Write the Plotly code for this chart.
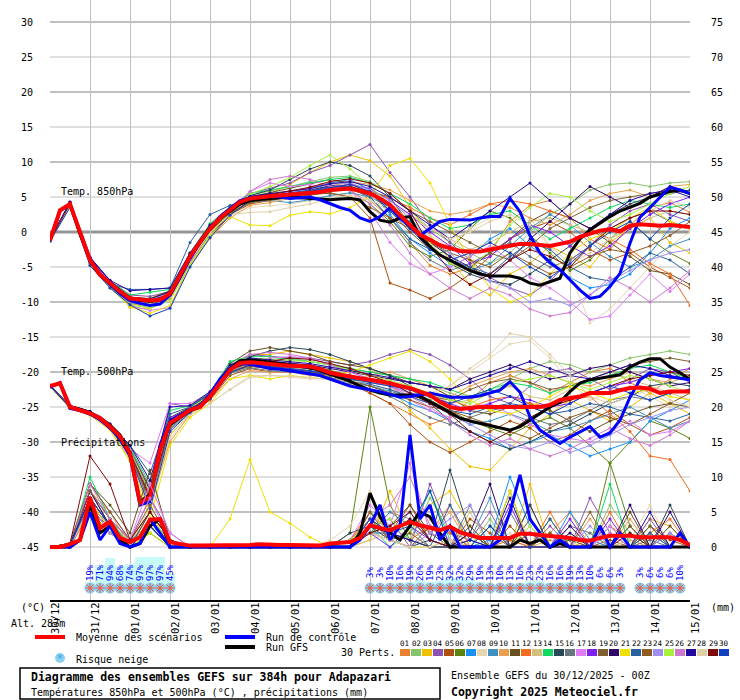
import plotly.graph_objects as go

W, H = 740, 700
FONT = 'DejaVu Sans Mono'

## time axis, hours after 30/12 00Z
hours_6h = list(range(0, 385, 6))
hours_12h = list(range(0, 385, 12))
date_hours = list(range(0, 385, 24))
date_labels = ['30/12', '31/12', '01/01', '02/01', '03/01', '04/01', '05/01', '06/01', '07/01',
               '08/01', '09/01', '10/01', '11/01', '12/01', '13/01', '14/01', '15/01']

left_ticks = [30, 25, 20, 15, 10, 5, 0, -5, -10, -15, -20, -25, -30, -35, -40, -45]
right_ticks = [75, 70, 65, 60, 55, 50, 45, 40, 35, 30, 25, 20, 15, 10, 5, 0]

## mean / control / GFS, 6h steps
t850_mean = [-1.2, 3.1, 4.0, -0.2, -4.0, -6.1, -7.3, -8.5, -9.5, -9.7, -9.8, -9.7, -8.8, -6.2, -3.5, -1.4, 0.5,
             2.0, 3.1, 4.3, 4.8, 5.0, 5.1, 5.2, 5.3, 5.4, 5.5, 5.7, 6.0, 6.1, 6.2, 5.9, 5.5, 4.8, 3.9, 2.4, 1.0,
             -0.4, -1.1, -1.9, -2.3, -2.7, -2.8, -2.8, -2.5, -2.2, -1.9, -1.7, -1.7, -1.9, -2.0, -1.7, -1.4, -0.7,
             -0.2, 0.2, 0.4, 0.1, 0.9, 1.1, 1.0, 0.9, 1.0, 0.9, 0.7]
t850_ctrl = [-1.3, 3.0, 4.0, 0.0, -3.8, -6.0, -7.5, -8.8, -9.8, -10.2, -10.5, -10.3, -9.0, -6.5, -3.8, -1.5, 0.5,
             2.2, 3.4, 4.5, 4.9, 5.0, 5.1, 5.0, 4.8, 4.9, 5.0, 4.6, 4.0, 3.5, 3.1, 2.0, 1.5, 2.2, 3.5, 2.0, 0.8,
             -0.5, 0.5, 1.5, 1.8, 1.7, 1.7, 2.0, 2.2, 2.2, 4.8, 2.9, -0.5, -3.0, -4.4, -5.4, -6.8, -8.3, -9.5,
             -9.2, -7.8, -5.9, -1.6, 2.1, 3.5, 5.0, 6.4, 6.0, 5.5]
t850_gfs = [-1.2, 3.1, 4.0, -0.3, -4.1, -6.2, -7.4, -8.6, -9.6, -9.8, -9.9, -9.8, -9.0, -6.4, -3.6, -1.5, 0.4,
            1.9, 3.0, 4.0, 4.5, 4.7, 4.8, 4.9, 5.0, 4.9, 4.8, 4.6, 4.6, 4.7, 4.8, 4.6, 2.9, 1.7, 1.4, 2.0, 2.2,
            -0.7, -2.1, -3.3, -4.0, -4.8, -5.5, -6.0, -6.3, -6.3, -6.3, -6.6, -7.3, -7.6, -7.1, -6.6, -3.0, -1.0,
            0.3, 1.3, 2.2, 3.0, 3.6, 4.1, 5.0, 5.4, 5.8, 6.0, 5.5]

t500_mean = [-22.0, -21.6, -25.0, -25.4, -25.9, -26.6, -27.8, -29.2, -31.6, -38.7, -37.8, -31.1, -27.3, -26.4,
             -25.4, -25.0, -23.5, -21.6, -19.7, -18.7, -18.6, -18.7, -18.9, -19.0, -19.1, -19.1, -19.2, -19.6,
             -20.1, -20.4, -20.7, -20.9, -21.1, -21.3, -21.6, -22.0, -22.3, -22.8, -23.3, -24.3, -25.0, -25.3,
             -25.1, -25.0, -25.0, -25.0, -24.9, -24.9, -25.0, -25.0, -24.7, -24.0, -23.7, -23.5, -23.0, -23.0,
             -23.0, -22.6, -22.3, -22.2, -22.4, -23.0, -22.8, -22.8, -22.8]
t500_ctrl = [-22.2, -21.5, -25.2, -25.5, -26.0, -26.8, -28.0, -29.5, -32.0, -39.0, -38.5, -30.5, -27.0, -26.2,
             -25.3, -24.8, -23.2, -21.0, -19.5, -18.8, -18.9, -19.2, -19.5, -19.6, -19.8, -20.0, -20.2, -20.5,
             -21.0, -21.5, -22.0, -22.3, -22.5, -22.8, -23.2, -23.6, -23.5, -23.2, -23.0, -23.3, -23.6, -23.6,
             -23.6, -23.4, -23.0, -22.6, -21.4, -22.9, -26.4, -28.3, -29.3, -30.2, -29.3, -28.5, -27.8, -29.3,
             -28.7, -26.9, -23.6, -21.1, -20.1, -20.5, -20.7, -20.8, -21.1]
t500_gfs = [-22.0, -21.6, -25.0, -25.3, -25.8, -26.5, -27.6, -29.0, -31.5, -38.5, -37.5, -31.0, -27.5, -26.5,
            -25.5, -25.0, -23.6, -21.5, -19.5, -18.4, -18.3, -18.4, -18.6, -18.8, -19.0, -19.2, -19.4, -19.8,
            -20.3, -20.8, -21.3, -22.0, -22.6, -23.0, -23.3, -23.3, -23.3, -23.5, -24.2, -25.0, -25.8, -26.6,
            -27.0, -27.3, -27.6, -28.0, -28.3, -27.8, -26.9, -25.9, -25.0, -24.3, -22.8, -21.6, -21.1, -20.9,
            -20.7, -20.4, -19.3, -18.6, -18.1, -18.1, -19.3, -20.1, -21.1]

rr_mean = [0, 0, 0.4, 1.0, 7.1, 2.7, 3.6, 1.3, 0.7, 1.4, 3.9, 4.0, 0.7, 0.4, 0.2, 0.2, 0.2, 0.2, 0.2, 0.2,
           0.3, 0.4, 0.3, 0.3, 0.3, 0.3, 0.2, 0.2, 0.5, 0.6, 0.7, 1.3, 3.1, 2.7, 2.4, 3.0, 3.6, 3.1, 2.7, 2.4,
           2.9, 2.1, 1.7, 1.3, 1.3, 1.3, 1.3, 1.9, 1.9, 1.7, 1.6, 1.4, 1.3, 1.0, 0.9, 1.3, 1.6, 1.6, 1.6, 1.4,
           1.4, 1.4, 1.4, 1.0, 0.3]
rr_ctrl = [0, 0, 0, 1, 5, 1, 3, 0.5, 0, 0.5, 4, 2, 0, 0, 0, 0, 0, 0, 0, 0, 0, 0, 0, 0, 0, 0, 0, 0, 0, 0, 0,
           1, 3, 6, 1, 3, 16, 4, 6, 1, 3, 0, 0, 0, 0, 1, 5, 10.3, 4, 2, 0, 1, 0, 0, 0, 3, 0, 2, 0, 0, 0, 0,
           0, 2, 0]
rr_gfs = [0, 0, 0, 1, 6, 2, 3, 1, 0, 0.5, 3, 4, 0, 0, 0, 0, 0, 0, 0, 0, 0, 0, 0, 0, 0, 0, 0, 0, 0, 0, 0,
          2, 7.7, 4.3, 2, 1, 3, 5, 4.3, 2, 0, 0, 0, 0, 0, 0, 0, 1, 0.5, 1, 0, 0.5, 0, 0, 0, 0, 0, 0, 0, 0,
          0, 0, 0, 0, 0]

## 30 perturbations, 12h steps
t850_perts = [
    [-1.1, 4.2, -3.6, -7.0, -9.2, -10.4, -9.5, -4.0, 0.2, 2.8, 4.6, 5.0, 5.6, 6.4, 7.0, 6.8, 4.5, 2.0, -1.5, -4.8, -6.0, -5.2, -3.0, 1.5, 3.8, 4.5, 2.0, -1.0, -2.5, 1.0, 3.5, 4.2, 2.8],
    [-1.3, 3.9, -4.5, -7.8, -10.2, -10.8, -9.0, -4.2, 0.0, 3.0, 5.2, 5.8, 6.5, 7.2, 7.8, 8.0, 7.2, 5.5, 3.0, 0.5, -1.5, -3.0, -4.5, -3.0, 0.0, 2.5, 4.0, 6.0, 6.8, 7.0, 6.5, 7.0, 7.2],
    [-1.2, 4.1, -4.2, -7.5, -10.8, -11.0, -9.4, -3.8, 0.8, 3.4, 5.0, 5.5, 6.8, 8.5, 10.0, 11.0, 10.2, 8.0, 3.5, -0.5, -4.0, -7.5, -9.0, -6.0, -4.5, -2.0, -3.5, -5.0, -1.5, 0.5, 2.0, -1.5, -3.0],
    [-1.0, 4.3, -3.8, -7.0, -9.0, -9.2, -8.5, -3.2, 0.8, 3.5, 5.5, 6.2, 7.0, 8.5, 9.5, 11.0, 12.5, 8.5, 5.0, 1.0, -1.5, -4.0, -6.5, -8.0, -9.0, -7.0, -4.0, -2.0, 1.0, 3.0, 4.0, 2.5, 1.5],
    [-1.3, 3.8, -4.5, -7.5, -9.8, -10.2, -9.0, -4.5, -0.5, 2.5, 4.0, 4.5, 5.0, 5.5, 5.5, 5.0, 2.0, -7.3, -8.3, -9.5, -8.0, -6.0, -3.5, -1.0, 0.5, 1.5, 0.0, -2.5, -4.0, -3.0, -5.0, -6.5, -8.0],
    [-1.2, 4.0, -4.0, -7.2, -9.4, -9.6, -8.6, -3.0, 1.0, 3.2, 4.8, 5.4, 5.6, 6.0, 6.5, 6.0, 4.0, 1.5, -2.0, -3.5, -2.5, 0.5, 3.0, 2.0, -0.5, -3.0, -5.5, -4.0, -1.0, 1.5, -1.0, -3.0, -4.5],
    [-1.1, 4.1, -3.9, -7.4, -9.6, -9.9, -8.7, -3.4, 0.6, 3.1, 4.9, 5.3, 5.8, 6.2, 7.0, 7.5, 6.0, 2.5, -1.0, -3.0, -5.0, -3.5, -1.0, 0.5, -2.0, -4.0, -6.5, -8.0, -7.5, -6.0, -3.0, 0.5, 2.0],
    [-1.2, 3.9, -4.3, -7.6, -10.0, -10.6, -9.3, -4.6, -0.8, 2.4, 3.5, 3.8, 4.0, 4.5, 5.0, 5.5, 4.5, 3.0, 1.0, -0.5, -2.0, 0.5, 2.0, 3.5, 2.0, -2.0, -6.0, -13.0, -11.0, -8.0, -5.0, -2.0, 0.0],
    [-1.2, 4.0, -4.1, -7.3, -9.7, -10.0, -9.0, -3.6, 0.4, 3.0, 4.3, 4.5, 4.2, 4.6, 5.2, 5.6, 5.0, 3.5, 1.5, -1.0, -3.5, -5.5, -4.5, -2.0, 0.5, 2.5, 1.0, -1.5, -3.5, -5.0, -4.0, -2.0, -1.0],
    [-1.3, 3.7, -4.6, -7.9, -10.3, -10.5, -9.6, -4.8, -0.9, 2.0, 3.8, 4.2, 4.8, 5.5, 6.5, 7.2, 6.8, 6.0, 4.5, 3.0, 2.5, 3.0, 4.0, 3.5, 2.0, 1.0, 2.5, 4.5, 5.5, 6.0, 5.0, 6.5, 6.8],
    [-1.1, 4.2, -3.7, -7.1, -9.3, -9.5, -8.4, -3.1, 0.9, 3.3, 5.0, 5.6, 6.2, 6.8, 7.5, 7.0, 5.5, 3.0, 0.0, -2.5, -4.0, -5.0, -3.0, -1.0, 1.5, 3.0, 2.0, 0.5, -1.5, -3.5, -5.5, -6.0, -7.5],
    [-1.2, 4.0, -4.0, -7.4, -9.5, -9.8, -8.9, -3.7, 0.3, 2.9, 4.6, 5.0, 5.2, 5.6, 6.0, 6.5, 5.8, 4.8, 3.5, 2.0, 1.0, 2.5, 4.0, 4.5, 4.0, 3.0, 2.0, 0.5, -1.0, -2.5, -4.5, -6.0, -10.5],
    [-1.2, 4.0, -4.2, -7.6, -9.8, -10.1, -9.2, -3.9, 0.2, 2.8, 4.5, 4.8, 5.1, 5.3, 5.8, 6.0, 5.2, 4.0, 2.5, 0.5, -1.0, -2.5, -1.5, 0.0, 1.5, 2.0, 1.0, 0.0, -1.0, 0.5, 2.0, 3.0, 2.5],
    [-1.1, 4.2, -3.7, -7.0, -9.0, -8.6, -8.2, -3.0, 1.2, 3.6, 5.5, 6.0, 6.5, 7.0, 7.5, 7.8, 7.0, 5.5, 4.0, 2.0, 0.5, 1.0, 2.5, 3.0, 1.0, -1.0, 0.5, 2.0, 3.5, 4.5, 4.0, 3.5, 4.0],
    [-1.2, 4.1, -3.9, -7.2, -9.4, -9.7, -8.6, -3.3, 0.7, 3.4, 5.2, 6.0, 7.5, 9.0, 10.0, 9.5, 8.0, 5.0, 1.0, -2.0, -4.5, -6.0, -7.0, -7.5, -6.0, -4.0, -2.0, 0.5, 2.5, 4.0, 5.0, 5.5, 6.0],
    [-1.3, 3.8, -4.4, -7.7, -10.1, -10.4, -9.3, -4.3, -0.3, 2.6, 4.2, 4.6, 5.0, 5.4, 5.8, 6.2, 5.0, 2.0, -1.5, -4.0, -5.5, -4.5, -3.0, -1.5, -3.5, -5.0, -4.0, -2.0, 0.5, 2.0, 3.0, 1.5, 0.5],
    [-1.1, 4.1, -3.8, -7.2, -10.5, -11.2, -10.8, -4.5, 0.1, 3.0, 5.8, 7.0, 6.5, 6.8, 6.2, 6.0, 3.0, -1.5, -4.5, -6.0, -5.0, -3.5, -2.0, -4.0, -6.5, -8.0, -10.0, -12.5, -12.0, -9.0, -6.0, -8.5, -6.0],
    [-1.2, 4.0, -4.0, -7.5, -9.5, -9.9, -8.8, -3.5, 0.5, 3.0, 4.8, 5.2, 5.4, 5.8, 6.4, 6.8, 6.2, 4.5, 2.5, 0.0, -2.0, -4.5, -3.5, -1.0, 1.0, 0.0, -2.0, -3.5, -2.0, 0.5, 2.5, 4.0, 5.0],
    [-1.2, 3.9, -4.3, -7.6, -9.9, -10.2, -9.1, -4.0, 0.0, 2.6, 4.2, 4.7, 5.0, 5.6, 6.2, 6.5, 5.8, 5.0, 3.0, 1.5, 0.0, -1.5, -3.0, -4.0, -2.0, 0.5, 2.0, 3.5, 4.5, 5.0, 5.5, 6.0, 5.5],
    [-1.1, 4.2, -3.7, -7.0, -9.3, -9.6, -8.5, -3.2, 0.8, 3.3, 5.0, 5.4, 5.6, 6.0, 6.6, 6.5, 5.5, 3.5, 1.0, -1.5, -3.5, -5.0, -6.5, -4.0, -1.0, 1.5, 4.0, 6.5, 5.0, 3.5, 5.0, 6.5, 5.5],
    [-1.3, 3.8, -4.5, -8.0, -10.6, -11.6, -10.5, -4.8, -0.5, 2.2, 1.0, 0.9, 2.4, 2.9, 2.6, 3.5, 5.0, 9.5, 10.5, 7.0, 1.0, -4.0, -8.0, -10.0, -9.0, -6.0, -3.0, -1.0, 0.0, 2.0, 3.5, 1.5, 0.5],
    [-1.2, 4.0, -4.1, -7.4, -8.2, -8.2, -8.0, -1.5, 2.5, 3.8, 4.7, 5.1, 5.5, 5.9, 6.5, 6.4, 5.0, 2.0, -1.0, -2.5, -4.0, -5.0, -6.0, -3.5, -1.5, -2.5, -5.0, -6.5, -7.0, -5.0, -3.0, -4.0, -6.0],
    [-1.2, 4.0, -4.0, -7.3, -9.6, -10.0, -8.9, -3.8, 0.2, 2.7, 4.3, 4.6, 4.9, 5.2, 5.6, 5.0, 3.5, 2.0, 0.5, -1.5, -3.0, -4.0, -5.0, -3.0, -4.5, -6.0, -5.0, -3.5, -2.5, -3.0, -2.0, -0.5, 1.5],
    [-1.1, 4.1, -3.9, -7.2, -9.4, -9.7, -8.7, -3.4, 0.6, 3.2, 4.9, 5.3, 5.7, 6.1, 6.8, 7.0, 6.0, 4.5, 2.0, -1.0, -3.0, -5.5, -7.0, -8.0, -10.0, -9.5, -10.5, -9.0, -7.0, -5.5, -4.0, -3.0, -2.5],
    [-1.3, 3.8, -4.4, -7.8, -10.4, -10.9, -9.8, -4.6, -0.4, 2.9, 5.4, 6.5, 7.8, 9.5, 11.0, 9.0, 6.5, 4.0, 1.0, -1.5, -4.5, -5.5, -2.5, 1.0, 3.5, 5.5, 5.0, 3.0, 1.5, 2.5, 4.0, 5.5, 6.5],
    [-1.2, 4.0, -4.0, -7.3, -9.5, -9.8, -8.8, -3.5, 0.5, 3.2, 5.8, 7.5, 8.0, 7.5, 6.5, 6.0, 4.0, 1.0, -3.0, -6.0, -8.0, -9.5, -8.0, -9.0, -11.0, -12.0, -11.5, -9.0, -6.5, -8.0, -10.0, -8.0, -5.5],
    [-1.1, 4.3, -3.6, -6.9, -8.4, -8.2, -8.0, -3.0, 1.0, 3.3, 5.1, 5.5, 5.8, 6.2, 6.9, 7.2, 6.5, 5.0, 3.0, 1.0, -1.0, 1.0, 3.0, 5.0, 7.0, 4.5, 2.0, 0.5, 2.5, 4.5, 5.5, 6.0, 5.0],
    [-1.2, 3.9, -4.2, -7.6, -9.9, -10.3, -9.2, -4.1, -0.1, 2.5, 2.8, 2.9, 3.5, 4.0, 4.8, 5.2, 4.5, 3.5, 2.0, 0.5, -1.0, 0.0, 1.5, 2.5, 1.0, -2.0, -4.5, -3.0, -1.0, 1.0, 3.0, 4.5, 3.5],
    [-1.2, 4.0, -4.0, -7.4, -9.6, -9.8, -8.9, -3.6, 0.4, 3.0, 4.8, 5.3, 5.8, 6.4, 7.2, 7.6, 7.0, 5.5, 3.0, -2.0, -5.5, -7.5, -6.0, -4.0, -2.5, -3.5, -5.0, -2.0, 0.5, 2.0, 3.0, 3.0, 2.5],
    [-1.3, 3.5, -4.8, -8.0, -10.4, -12.0, -10.9, -5.0, -0.8, 2.4, 4.5, 4.9, 5.2, 5.8, 6.3, 6.8, 5.8, 3.0, 0.5, -2.5, -4.0, -3.0, -1.5, -3.0, -5.0, -6.5, -4.5, -2.0, 0.0, 1.5, -1.0, 2.0, 4.0],
]

t500_perts = [
    [-22.1, -25.2, -26.1, -28.0, -32.2, -38.5, -28.0, -25.7, -23.8, -20.0, -18.8, -19.2, -19.8, -20.3, -21.0, -21.8, -23.0, -24.5, -26.0, -27.5, -26.5, -24.0, -21.5, -20.5, -21.5, -23.0, -21.5, -20.0, -19.5, -21.5, -23.0, -21.0, -19.5],
    [-22.0, -24.9, -25.8, -27.6, -31.0, -37.0, -26.8, -25.2, -23.2, -19.0, -18.0, -18.2, -18.0, -18.5, -19.0, -19.5, -20.0, -20.5, -21.0, -22.0, -23.0, -24.0, -22.5, -21.0, -19.5, -18.5, -19.0, -20.0, -19.0, -18.0, -17.5, -17.0, -17.5],
    [-22.1, -25.1, -26.0, -28.2, -32.5, -40.0, -29.0, -26.0, -23.8, -19.5, -17.5, -17.5, -17.0, -17.5, -18.0, -18.5, -19.5, -22.0, -25.5, -28.0, -31.0, -33.5, -34.0, -31.0, -28.0, -26.0, -24.0, -25.5, -27.0, -25.0, -23.0, -24.5, -26.0],
    [-21.9, -24.8, -25.6, -27.5, -31.0, -36.5, -24.5, -25.0, -23.0, -19.0, -17.5, -17.8, -18.0, -18.0, -18.5, -19.0, -18.5, -17.5, -16.8, -17.5, -19.0, -21.0, -23.5, -24.5, -22.0, -20.0, -19.5, -21.0, -22.5, -21.0, -19.5, -20.0, -21.5],
    [-22.0, -25.0, -26.0, -27.9, -31.8, -38.0, -27.5, -25.6, -24.0, -20.5, -19.5, -20.0, -20.0, -20.2, -20.5, -21.5, -23.0, -24.5, -27.5, -30.0, -31.5, -30.0, -28.5, -27.0, -28.0, -30.0, -29.0, -27.0, -25.5, -27.5, -29.0, -28.0, -26.5],
    [-22.0, -25.0, -25.9, -27.8, -31.5, -37.5, -27.0, -25.3, -23.4, -19.6, -18.5, -18.8, -19.0, -19.0, -19.8, -20.5, -21.0, -21.5, -22.5, -24.0, -25.5, -27.0, -28.0, -29.0, -27.5, -26.5, -28.0, -30.5, -33.0, -30.0, -27.0, -28.0, -29.5],
    [-22.0, -25.1, -26.0, -27.9, -31.7, -38.2, -28.0, -25.5, -23.5, -19.8, -18.7, -19.0, -19.5, -19.8, -20.5, -21.0, -22.0, -23.0, -24.5, -25.5, -27.0, -28.5, -29.5, -31.0, -30.0, -29.0, -30.5, -32.0, -31.0, -30.0, -27.0, -25.5, -24.0],
    [-22.1, -25.2, -26.2, -28.2, -32.5, -39.5, -29.5, -26.2, -24.5, -22.5, -20.5, -20.5, -20.8, -21.0, -21.0, -21.5, -22.0, -22.5, -23.0, -23.5, -22.0, -20.0, -18.0, -16.0, -15.5, -18.0, -21.5, -24.0, -23.0, -22.0, -23.5, -25.0, -24.5],
    [-22.0, -25.0, -25.9, -27.8, -31.5, -37.8, -27.3, -25.4, -23.6, -20.0, -19.0, -19.5, -19.8, -20.0, -20.8, -21.5, -22.0, -22.8, -23.5, -24.5, -26.0, -27.5, -27.0, -26.0, -27.0, -28.5, -28.0, -27.0, -26.0, -25.0, -26.5, -28.0, -27.0],
    [-22.1, -25.1, -26.1, -28.1, -32.3, -39.0, -30.0, -26.0, -24.0, -21.0, -19.8, -20.0, -20.0, -20.5, -20.5, -21.0, -20.5, -20.0, -21.0, -22.0, -23.5, -22.0, -21.0, -20.0, -19.5, -20.5, -21.5, -22.0, -21.0, -20.0, -21.0, -21.5, -20.5],
    [-21.9, -24.9, -25.7, -27.6, -31.2, -36.8, -26.5, -25.0, -23.0, -18.8, -17.0, -16.5, -17.0, -17.5, -18.5, -19.0, -19.5, -20.5, -21.5, -22.0, -23.5, -25.5, -26.0, -25.0, -24.5, -25.5, -27.0, -28.5, -27.0, -26.0, -25.0, -24.5, -25.0],
    [-22.0, -25.0, -25.9, -27.8, -31.6, -37.6, -27.2, -25.3, -23.4, -19.7, -18.8, -19.2, -19.5, -19.8, -20.2, -20.8, -21.5, -22.0, -22.5, -23.0, -24.0, -25.0, -24.0, -23.5, -24.5, -25.0, -24.0, -23.5, -26.0, -28.5, -32.0, -32.5, -37.0],
    [-22.0, -25.0, -26.0, -27.9, -31.8, -38.0, -27.5, -25.5, -23.6, -20.2, -19.2, -19.5, -19.7, -20.0, -20.5, -21.0, -21.5, -22.0, -22.5, -23.0, -24.5, -24.0, -23.0, -22.0, -23.5, -24.0, -22.5, -21.0, -20.0, -21.0, -22.0, -23.0, -24.0],
    [-21.9, -24.8, -25.7, -27.5, -30.8, -36.0, -25.5, -24.8, -23.0, -18.5, -17.8, -17.8, -18.2, -18.5, -19.0, -19.5, -20.0, -20.5, -21.0, -21.5, -22.5, -23.5, -22.5, -21.5, -22.0, -23.0, -22.0, -21.5, -20.5, -19.5, -19.0, -20.0, -21.0],
    [-22.0, -25.0, -25.9, -27.8, -31.6, -37.7, -27.2, -25.3, -23.4, -19.5, -17.8, -17.0, -16.5, -16.8, -17.5, -18.5, -19.5, -20.5, -22.0, -24.5, -27.0, -28.5, -30.0, -31.0, -30.0, -28.5, -27.5, -26.0, -24.5, -23.5, -22.0, -21.5, -22.0],
    [-22.1, -25.1, -26.1, -28.0, -32.0, -38.8, -28.2, -25.8, -23.9, -20.2, -19.4, -19.8, -20.0, -20.2, -20.8, -21.5, -22.5, -23.5, -25.0, -26.5, -27.5, -26.5, -25.5, -25.0, -26.5, -27.5, -27.0, -25.5, -24.0, -23.5, -24.0, -23.0, -22.5],
    [-21.9, -24.9, -25.8, -27.6, -31.0, -33.0, -24.5, -24.5, -23.0, -19.5, -18.5, -18.0, -17.8, -18.0, -19.0, -20.0, -21.0, -22.0, -24.0, -25.5, -26.5, -25.0, -24.5, -26.0, -27.5, -29.0, -29.5, -30.0, -28.5, -27.0, -29.0, -28.5, -27.0],
    [-22.0, -25.0, -25.9, -27.8, -31.6, -37.8, -26.5, -25.4, -23.5, -19.7, -18.6, -19.0, -19.2, -19.5, -20.0, -20.5, -21.5, -22.0, -23.0, -23.5, -24.5, -25.5, -24.5, -23.5, -24.0, -25.0, -24.5, -23.0, -22.0, -21.5, -20.5, -20.0, -19.5],
    [-22.0, -25.0, -26.0, -27.9, -31.8, -38.2, -27.8, -25.6, -23.7, -20.0, -19.0, -19.2, -19.3, -19.5, -20.0, -20.5, -21.0, -21.5, -22.5, -23.5, -24.0, -22.5, -21.5, -21.0, -21.5, -22.5, -22.0, -21.0, -20.0, -19.0, -18.5, -18.0, -18.5],
    [-21.9, -24.9, -25.8, -27.7, -31.3, -37.0, -26.8, -25.1, -23.2, -19.3, -18.2, -18.5, -18.7, -19.0, -19.5, -20.0, -20.5, -21.0, -21.5, -22.0, -22.5, -21.0, -20.0, -19.0, -20.0, -21.0, -20.5, -19.5, -19.0, -20.0, -21.0, -22.0, -21.5],
    [-22.1, -25.2, -26.2, -28.3, -32.8, -41.0, -30.5, -26.5, -24.5, -21.0, -20.5, -21.0, -20.5, -20.8, -20.5, -20.0, -19.0, -18.0, -17.0, -18.5, -21.0, -24.0, -25.5, -26.0, -25.0, -23.5, -22.0, -23.0, -24.0, -23.0, -22.5, -23.5, -24.0],
    [-22.0, -25.0, -25.9, -27.7, -30.5, -34.5, -26.0, -25.0, -23.0, -19.5, -18.8, -19.2, -19.5, -19.8, -20.3, -21.0, -21.8, -22.5, -23.5, -24.5, -25.5, -26.0, -25.0, -24.5, -25.0, -26.0, -25.5, -24.5, -25.0, -26.0, -26.5, -27.0, -26.0],
    [-22.0, -25.0, -26.0, -27.9, -31.7, -38.0, -27.5, -25.5, -23.6, -20.0, -19.2, -19.5, -19.8, -20.0, -20.5, -21.2, -22.0, -23.0, -24.0, -25.0, -25.5, -26.5, -27.5, -28.5, -29.5, -28.0, -26.5, -25.5, -26.5, -27.5, -26.0, -24.5, -23.0],
    [-22.0, -25.0, -25.9, -27.8, -31.6, -37.8, -27.3, -25.3, -23.4, -19.6, -18.5, -18.8, -19.0, -19.3, -20.0, -20.6, -21.2, -22.0, -23.0, -24.5, -26.0, -27.5, -29.0, -30.5, -31.0, -30.0, -31.5, -30.5, -29.0, -27.5, -26.5, -25.5, -25.0],
    [-21.9, -24.9, -25.8, -27.6, -31.2, -37.2, -27.0, -25.2, -23.3, -19.2, -18.0, -18.2, -18.3, -18.5, -19.0, -19.8, -20.5, -21.2, -22.0, -23.0, -24.0, -24.5, -23.0, -21.5, -21.0, -20.5, -21.5, -22.5, -21.5, -20.5, -21.0, -22.0, -23.0],
    [-22.0, -25.0, -25.9, -27.8, -31.6, -37.8, -27.3, -25.4, -23.5, -19.3, -17.5, -17.2, -17.5, -18.0, -19.0, -20.0, -21.0, -22.0, -23.5, -25.0, -27.0, -29.0, -30.5, -29.5, -31.0, -32.0, -31.0, -29.5, -28.0, -29.5, -30.5, -29.0, -27.0],
    [-21.9, -24.8, -25.6, -27.4, -30.5, -35.5, -25.0, -24.8, -22.8, -19.0, -18.0, -18.3, -18.5, -18.8, -19.3, -19.8, -20.3, -20.8, -21.5, -22.0, -22.5, -21.5, -20.5, -19.5, -18.5, -19.5, -20.5, -21.0, -20.0, -19.0, -19.5, -20.5, -21.0],
    [-22.1, -25.1, -26.1, -28.1, -32.2, -39.2, -28.8, -26.0, -24.5, -22.5, -20.8, -20.5, -20.6, -20.8, -21.0, -21.2, -21.5, -22.0, -22.5, -23.0, -22.0, -19.5, -17.5, -14.5, -15.0, -17.5, -20.5, -23.5, -24.5, -23.5, -22.5, -24.0, -25.0],
    [-22.0, -25.0, -25.9, -27.8, -31.6, -37.9, -27.5, -25.4, -23.5, -19.7, -18.5, -18.5, -18.0, -18.2, -18.8, -19.5, -20.5, -21.5, -23.0, -24.5, -26.0, -28.5, -30.0, -28.5, -26.5, -25.0, -24.0, -23.0, -22.0, -21.0, -20.5, -20.0, -20.5],
    [-22.0, -25.1, -26.0, -28.0, -32.0, -39.5, -28.5, -25.8, -23.8, -20.1, -19.0, -19.3, -19.6, -19.9, -20.4, -21.0, -21.5, -22.0, -22.5, -23.5, -24.5, -23.5, -22.5, -23.5, -25.0, -26.0, -24.5, -23.0, -22.0, -23.0, -24.0, -23.0, -22.5],
]

rr_perts = [
    [0, 0.5, 6, 3, 0, 4, 0, 0, 0, 0, 0, 0, 0, 0, 0, 0, 2, 5, 4, 2, 6, 0, 3, 1, 0, 2, 5, 0, 3, 1, 0, 2, 0],
    [0, 0, 8, 4, 1, 3, 1, 0, 0, 0, 0, 0, 0, 0, 0, 0, 5, 3, 1, 7, 2, 0, 4, 0, 2, 0, 1, 0, 6, 2, 0, 0, 0],
    [0, 0.5, 7, 2, 0, 5, 0, 0, 0, 0, 0, 0, 0, 0, 0, 0, 1, 8, 2, 6, 8, 3, 0, 0, 9, 0, 0, 1, 0, 0, 4, 3, 0],
    [0, 0, 9, 5, 1, 7, 2, 0, 0, 0, 0, 0, 0, 0, 0, 1, 3, 4, 0, 9, 2, 1, 5, 0, 0, 3, 0, 7, 2, 0, 4, 0, 0],
    [0, 0.5, 5, 3, 0, 3, 0, 0, 0, 0, 0, 0, 0, 0, 0, 1, 4, 2, 6, 1, 0, 4, 2, 0, 6, 0, 0, 0, 1, 0, 3, 1, 0],
    [0, 0, 6, 3, 1, 2, 0, 0, 0, 0, 0, 0, 0, 0, 0, 2, 20, 6, 1, 0, 0, 2, 0, 8, 0, 4, 0, 0, 12, 3, 0, 0, 0],
    [0, 0.5, 8, 4, 0, 4, 1, 0, 0, 0, 0, 0, 0, 0, 0, 0, 3, 2, 5, 1, 0, 0, 1, 10, 3, 0, 5, 1, 0, 0, 2, 0, 0],
    [0, 0, 7, 3, 0, 6, 1, 0, 0, 0, 0, 0, 0, 0, 1, 3, 8, 2, 1, 4, 3, 0, 0, 2, 0, 0, 2, 0, 0, 1, 6, 0, 0],
    [0, 0.5, 6, 2, 1, 3, 0, 0, 0, 0, 0, 0, 0, 0, 0, 0, 2, 5, 3, 0, 0, 1, 7, 0, 2, 0, 0, 0, 3, 0, 0, 2, 0],
    [0, 0, 8, 5, 0, 5, 1, 0, 0, 0, 0, 0, 0, 0, 0, 1, 4, 1, 0, 2, 5, 0, 0, 3, 0, 1, 0, 4, 0, 4, 0, 0, 0],
    [0, 0.5, 9, 6, 2, 11, 1, 0, 0, 0, 0, 0, 0, 0, 0, 0, 2, 3, 6, 2, 0, 3, 0, 0, 4, 0, 1, 0, 0, 5, 0, 3, 0],
    [0, 0, 5, 2, 0, 3, 0, 0, 0, 0, 0, 0, 0, 0, 0, 1, 5, 2, 1, 3, 2, 0, 0, 1, 0, 5, 0, 0, 5, 0, 2, 4, 0],
    [0, 0.5, 7, 3, 1, 4, 0, 0, 0, 0, 0, 0, 0, 0, 0, 0, 1, 2, 4, 1, 0, 5, 0, 0, 3, 0, 0, 2, 0, 1, 0, 0, 0],
    [0, 0, 10, 4, 0, 2, 0, 0, 0, 0, 0, 0, 0, 0, 0, 0, 3, 0, 2, 8, 1, 0, 3, 0, 0, 2, 0, 0, 9, 0, 3, 0, 0],
    [0, 0.5, 8, 3, 0, 5, 1, 0, 0, 0, 0, 0, 0, 0, 0, 2, 3, 1, 0, 1, 11, 2, 0, 0, 6, 0, 0, 0, 0, 3, 0, 6, 0],
    [0, 0, 6, 2, 0, 3, 0, 0, 0, 0, 0, 0, 0, 0, 0, 0, 4, 2, 1, 0, 0, 6, 0, 5, 0, 0, 3, 2, 0, 0, 1, 0, 0],
    [0, 0.5, 8, 4, 1, 9, 2, 0, 0, 0, 0, 0, 0, 0, 0, 1, 6, 3, 12, 2, 1, 0, 0, 0, 2, 0, 0, 0, 3, 0, 0, 0, 0],
    [0, 0, 7, 3, 0, 4, 0, 0, 0, 0, 0, 0, 0, 0, 0, 0, 2, 0, 3, 1, 0, 0, 0, 6, 0, 0, 4, 0, 4, 0, 0, 0, 0],
    [0, 0.5, 9, 5, 1, 6, 1, 0, 0, 0, 0, 0, 0, 0, 0, 0, 5, 1, 0, 3, 0, 2, 0, 0, 2, 0, 0, 5, 0, 0, 3, 0, 0],
    [0, 0, 8, 3, 0, 3, 0, 0, 0, 0, 0, 0, 0, 0, 0, 0, 3, 2, 4, 1, 0, 2, 9, 0, 0, 0, 3, 0, 0, 6, 0, 5, 0],
    [0, 0.5, 5, 2, 0, 2, 0, 0, 0, 4, 12.5, 5, 3.4, 1.4, 0, 0, 2, 1, 0, 0, 1, 0, 0, 8, 0, 0, 2, 0, 0, 0, 0, 0, 0],
    [0, 0, 7, 3, 0, 4, 0, 0, 0, 0, 0, 0, 0, 0, 0, 1, 2, 2, 1, 0, 6, 1, 0, 0, 0, 4, 0, 0, 0, 0, 2, 0, 0],
    [0, 0.5, 8, 4, 1, 5, 1, 0, 0, 0, 0, 0, 0, 0, 0, 0, 4, 1, 2, 0, 0, 0, 0, 3, 0, 2, 0, 0, 0, 3, 0, 0, 0],
    [0, 0, 6, 2, 0, 3, 0, 0, 0, 0, 0, 0, 0, 0, 0, 0, 2, 1, 0, 2, 4, 6, 0, 0, 0, 0, 0, 3, 0, 0, 0, 2, 0],
    [0, 0.5, 7, 3, 0, 4, 1, 0, 0, 0, 0, 0, 0, 0, 0, 1, 3, 4, 1, 0, 0, 0, 0, 0, 3, 0, 0, 0, 0, 0, 0, 0, 0],
    [0, 0, 9, 4, 1, 7, 1, 0, 0, 0, 0, 0, 0, 0, 0, 0, 4, 6, 10, 3, 1, 0, 0, 0, 0, 0, 0, 0, 2, 0, 0, 0, 0],
    [0, 0.5, 7, 3, 0, 3, 0, 0, 0, 0, 0, 0, 0, 0, 0, 0, 3, 2, 1, 0, 0, 1, 0, 7, 0, 0, 2, 0, 0, 0, 5, 0, 0],
    [0, 0, 6, 3, 0, 4, 0, 0, 0, 0, 0, 0, 0, 0, 0, 0, 2, 1, 0, 0, 1, 0, 0, 0, 0, 0, 0, 0, 0, 0, 0, 0, 0],
    [0, 0.5, 13, 9, 1, 5, 1, 0, 0, 0, 0, 0, 0, 0, 0, 0, 2, 3, 5, 1, 0, 0, 0, 0, 0, 0, 0, 0, 0, 2, 0, 0, 0],
    [0, 0, 7, 3, 0, 3, 0, 0, 0, 0, 0, 0, 0, 0, 0, 0, 4, 2, 3, 8, 0, 0, 3, 0, 0, 0, 0, 0, 0, 0, 0, 0, 0],
]

member_colors = ['#e8802e', '#88c46c', '#f0c000', '#8e52b0', '#b05010', '#5e8410', '#1890f8', '#e6d6b0',
                 '#3e90c0', '#e8a050', '#685020', '#f06c20', '#d2c07e', '#10d860', '#284858', '#687880',
                 '#e07cf4', '#8020f0', '#806030', '#300868', '#f0e000', '#2860a0', '#905a20', '#a090f0',
                 '#a8f040', '#d078d0', '#2008a0', '#e0d0a8', '#800808', '#1040c0']

## snow risk (%)
snow_hours = [24, 30, 36, 42, 48, 54, 60, 66, 72,
              192, 198, 204, 210, 216, 222, 228, 234, 240, 246, 252, 258, 264, 270, 276, 282, 288, 294,
              300, 306, 312, 318, 324, 330, 336, 342,
              354, 360, 366, 372, 378]
snow_pct = [19, 71, 94, 68, 74, 97, 97, 97, 45,
            3, 3, 10, 16, 19, 26, 19, 23, 32, 32, 29, 19, 13, 10, 13, 16, 23, 23,
            16, 16, 19, 13, 10, 6, 6, 3,
            3, 6, 6, 6, 10]


def px(x):
    return x / W


def py(y):
    return (H - y) / H


fig = go.Figure()

## members
for i in range(30):
    c = member_colors[i]
    fig.add_trace(go.Scatter(x=hours_12h, y=t850_perts[i], mode='lines+markers',
                             line=dict(color=c, width=1), marker=dict(color=c, size=3)))
    fig.add_trace(go.Scatter(x=hours_12h, y=t500_perts[i], mode='lines+markers',
                             line=dict(color=c, width=1), marker=dict(color=c, size=3)))
    fig.add_trace(go.Scatter(x=hours_12h, y=rr_perts[i], mode='lines+markers', yaxis='y2',
                             line=dict(color=c, width=1), marker=dict(color=c, size=3)))

## GFS, control, mean
for series, col, wd in [((t850_gfs, t500_gfs, rr_gfs), '#000000', 3),
                        ((t850_ctrl, t500_ctrl, rr_ctrl), '#0000ff', 3),
                        ((t850_mean, t500_mean, rr_mean), '#ff0000', 4)]:
    fig.add_trace(go.Scatter(x=hours_6h, y=series[0], mode='lines', line=dict(color=col, width=wd)))
    fig.add_trace(go.Scatter(x=hours_6h, y=series[1], mode='lines', line=dict(color=col, width=wd)))
    fig.add_trace(go.Scatter(x=hours_6h, y=series[2], mode='lines', yaxis='y2', line=dict(color=col, width=wd)))

## snow row
fig.add_trace(go.Bar(x=snow_hours, y=snow_pct, yaxis='y3', width=6,
                     marker=dict(color='#c8fafa', line=dict(width=0))))
fig.add_trace(go.Scatter(x=snow_hours, y=[0] * len(snow_hours), yaxis='y3', mode='markers',
                         marker=dict(symbol='circle', size=11, color='#8ad2f4', line=dict(width=0))))
fig.add_trace(go.Scatter(x=snow_hours, y=[0] * len(snow_hours), yaxis='y3', mode='markers',
                         marker=dict(symbol='asterisk-open', size=8, line=dict(color='#4aa6e0', width=1))))

shapes = []
## horizontal grid
for v in left_ticks:
    if v == 0:
        shapes.append(dict(type='line', xref='x', yref='y', x0=0, x1=384, y0=v, y1=v,
                           line=dict(color='#959595', width=3), layer='below'))
    else:
        shapes.append(dict(type='line', xref='x', yref='y', x0=0, x1=384, y0=v, y1=v,
                           line=dict(color='#c0c0c0', width=2 if v % 10 == 0 else 1), layer='below'))

## legend marks
shapes.append(dict(type='line', xref='paper', yref='paper', x0=px(35), x1=px(65), y0=py(637), y1=py(637),
                   line=dict(color='#ff0000', width=4)))
shapes.append(dict(type='line', xref='paper', yref='paper', x0=px(225), x1=px(255), y0=py(637), y1=py(637),
                   line=dict(color='#0000ff', width=4)))
shapes.append(dict(type='line', xref='paper', yref='paper', x0=px(225), x1=px(255), y0=py(647), y1=py(647),
                   line=dict(color='#000000', width=4)))
shapes.append(dict(type='circle', xref='paper', yref='paper', x0=px(55), x1=px(65), y0=py(653), y1=py(663),
                   fillcolor='#8ad2f4', line=dict(width=0)))
for i in range(30):
    shapes.append(dict(type='rect', xref='paper', yref='paper', x0=px(400 + 11 * i), x1=px(410 + 11 * i),
                       y0=py(656), y1=py(649), fillcolor=member_colors[i], line=dict(width=0)))
## title box
shapes.append(dict(type='rect', xref='paper', yref='paper', x0=px(20), x1=px(440), y0=py(699), y1=py(668),
                   line=dict(color='#000000', width=1.5)))

ann = []
f10 = dict(family=FONT, size=10, color='#000000')
for v in left_ticks:
    ann.append(dict(text=str(v), xref='paper', yref='y', x=px(19), y=v, xanchor='left', yanchor='middle',
                    showarrow=False, font=f10))
for v in right_ticks:
    ann.append(dict(text=str(v), xref='paper', yref='y2', x=px(709), y=v, xanchor='left', yanchor='middle',
                    showarrow=False, font=f10))
for h, lab in zip(date_hours, date_labels):
    ann.append(dict(text=lab, xref='x', yref='paper', x=h, y=py(618), xanchor='center', yanchor='middle',
                    xshift=5, textangle=-90, showarrow=False,
                    font=dict(family=FONT, size=10.5, color='#000000')))
for h, p in zip(snow_hours, snow_pct):
    ann.append(dict(text=f'{p}%', xref='x', yref='paper', x=h, y=py(573), xanchor='center', yanchor='middle',
                    textangle=-90, showarrow=False, font=dict(family=FONT, size=9, color='#0000ff')))

texts = [
    ('Temp. 850hPa', 59, 192, f10),
    ('Temp. 500hPa', 59, 372, f10),
    ('Précipitations', 59, 443, f10),
    ('(°C)', 19, 607, f10),
    ('(mm)', 709, 607, f10),
    ('Alt. 287m', 9, 623, f10),
    ('Moyenne des scénarios', 74, 637, f10),
    ('Run de contrôle', 264, 637, f10),
    ('Run GFS', 264, 647, f10),
    ('30 Perts.', 339, 652, f10),
    ('Risque neige', 74, 659, f10),
    ('<b>Diagramme des ensembles GEFS sur 384h pour Adapazari</b>', 29, 677,
     dict(family=FONT, size=11.5, color='#000000')),
    ('Températures 850hPa et 500hPa (°C) , précipitations (mm)', 29, 692, f10),
    ('Ensemble GEFS du 30/12/2025 - 00Z', 449, 675, f10),
    ('<b>Copyright 2025 Meteociel.fr</b>', 449, 692, dict(family=FONT, size=11.5, color='#000000')),
]
for t, x, y, f in texts:
    ann.append(dict(text=t, xref='paper', yref='paper', x=px(x), y=py(y), xanchor='left', yanchor='middle',
                    showarrow=False, font=f))
ann.append(dict(text='*', xref='paper', yref='paper', x=px(60), y=py(658), xanchor='center', yanchor='middle',
                showarrow=False, font=dict(family=FONT, size=10, color='#3a9ad8')))
for i in range(30):
    ann.append(dict(text=f'{i + 1:02d}', xref='paper', yref='paper', x=px(405 + 11 * i), y=py(643),
                    xanchor='center', yanchor='middle', showarrow=False,
                    font=dict(family=FONT, size=7.5, color='#000000')))

fig.update_layout(
    width=W, height=H,
    margin=dict(l=0, r=0, t=0, b=0, autoexpand=False),
    paper_bgcolor='white', plot_bgcolor='white',
    showlegend=False, hovermode=False, bargap=0,
    xaxis=dict(domain=[px(50), px(690)], range=[0, 384], tickvals=date_hours, showticklabels=False,
               showgrid=True, gridcolor='#c0c0c0', gridwidth=1, zeroline=False,
               showline=True, linecolor='#000000', linewidth=2, ticks=''),
    yaxis=dict(domain=[py(600), 1], range=[(232 - 600) / 7, 232 / 7], showgrid=False, zeroline=False,
               showticklabels=False),
    yaxis2=dict(domain=[py(600), 1], range=[(547 - 600) / 7, 547 / 7], overlaying='y', side='right',
                showgrid=False, zeroline=False, showticklabels=False),
    yaxis3=dict(domain=[py(600), py(556)], range=[-37.5, 100], anchor='x', showgrid=False, zeroline=False,
                showticklabels=False),
    shapes=shapes, annotations=ann,
)

fig.write_html("out.html", config={'displayModeBar': False},
               post_script="document.body.style.margin='0';")
